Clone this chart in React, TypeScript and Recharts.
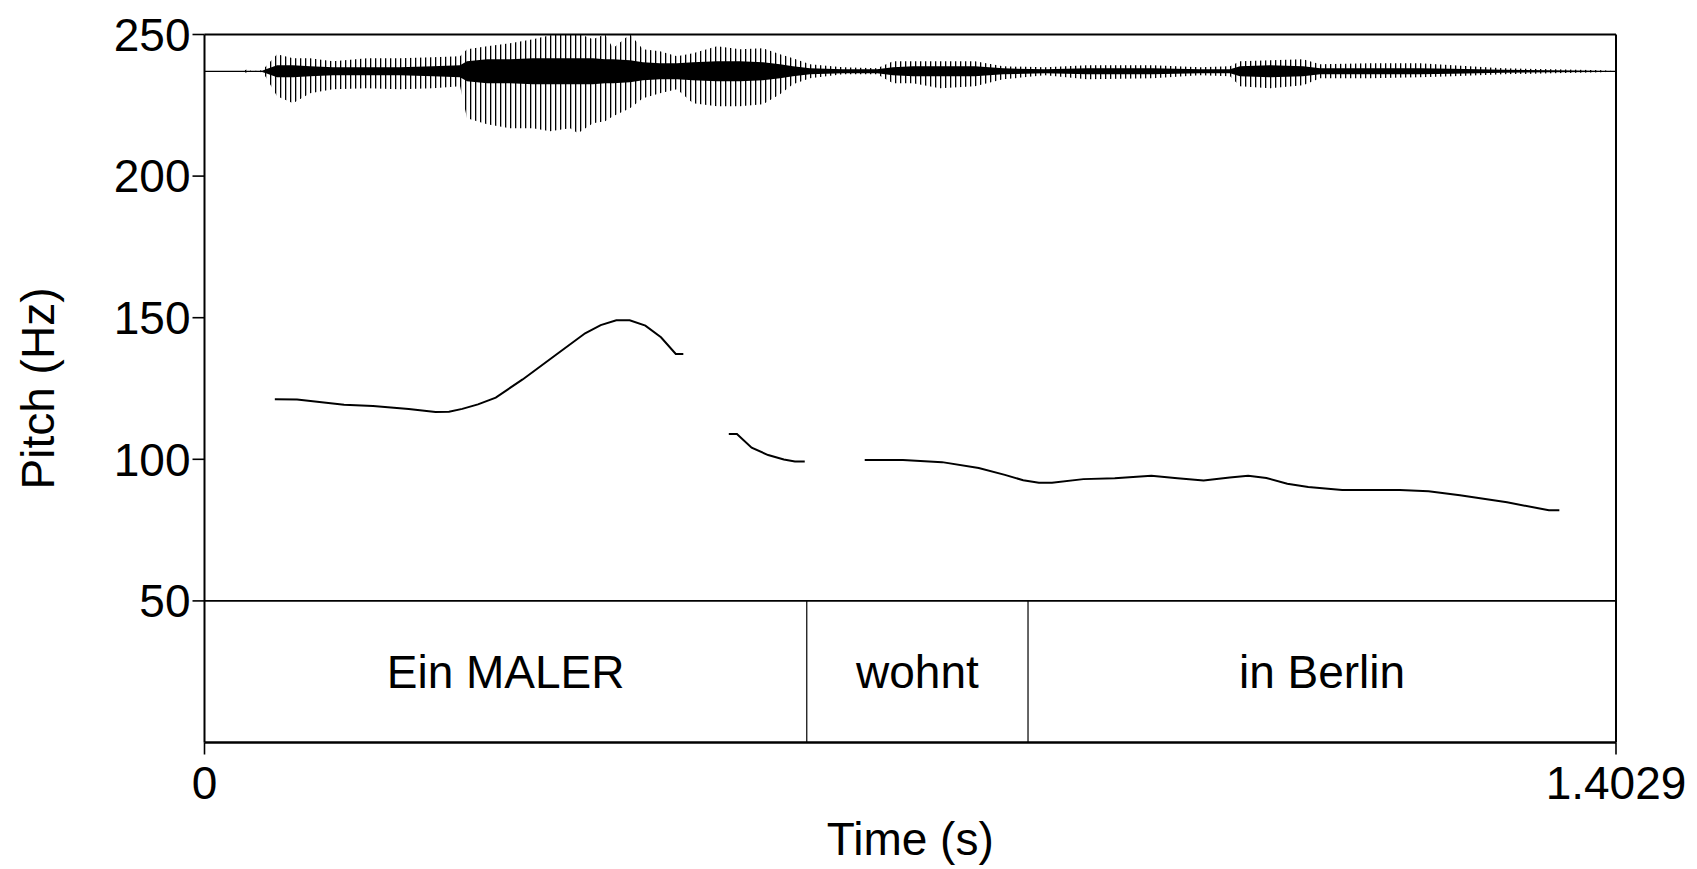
import { ComposedChart, Line, Area, XAxis, YAxis, ReferenceLine, ReferenceArea } from "recharts";

const FONT = "'Liberation Sans', Arial, Helvetica, sans-serif";
const DURATION = 1.4029;

// F0 track, one array per voiced stretch: [time (s), pitch (Hz)]
const f0Ein: [number, number][] = [
  [0.0699, 121.2], [0.092, 121.1], [0.1387, 119.3], [0.1675, 118.8], [0.203, 117.8],
  [0.2296, 116.7], [0.243, 116.8], [0.2562, 117.8], [0.2718, 119.4], [0.2895, 121.8],
  [0.3162, 128.2], [0.3494, 136.9], [0.3783, 144.5], [0.3938, 147.4], [0.4093, 149.1],
  [0.4226, 149.1], [0.4382, 147.2], [0.4537, 143.1], [0.4684, 137.2], [0.4759, 137.2],
];
const f0Maler: [number, number][] = [
  [0.5211, 108.9], [0.5292, 108.9], [0.5438, 104.1], [0.5602, 101.5], [0.5758, 99.9],
  [0.5868, 99.2], [0.5966, 99.2],
];
const f0Berlin: [number, number][] = [
  [0.6562, 99.75], [0.6942, 99.75], [0.7331, 99.0], [0.7695, 96.9], [0.7955, 94.5],
  [0.8137, 92.6], [0.8293, 91.7], [0.8423, 91.7], [0.8735, 93.0], [0.9047, 93.3],
  [0.9411, 94.2], [0.967, 93.3], [0.993, 92.5], [1.019, 93.6], [1.0373, 94.2],
  [1.0554, 93.4], [1.0762, 91.4], [1.097, 90.2], [1.1308, 89.2], [1.188, 89.2],
  [1.2166, 88.7], [1.2478, 87.3], [1.2946, 84.8], [1.3362, 82.0], [1.3466, 82.0],
];

// waveform envelope (relative amplitude, -1 = largest peak)
const waveTime = [
  0, 0.0383, 0.0422, 0.0472, 0.0572, 0.0611, 0.0721, 0.088, 0.1049, 0.1277,
  0.1615, 0.1943, 0.2271, 0.254, 0.2609, 0.2808, 0.3037, 0.3265, 0.3434, 0.3633,
  0.3712, 0.3861, 0.3981, 0.406, 0.4229, 0.4358, 0.4527, 0.4696, 0.4855, 0.5094,
  0.5322, 0.5551, 0.572, 0.5849, 0.6018, 0.6346, 0.6684, 0.6843, 0.7042, 0.731,
  0.7658, 0.7937, 0.8354, 0.8772, 0.9428, 0.9895, 1.0193, 1.0292, 1.0591, 1.0919,
  1.1088, 1.1585, 1.2081, 1.2409, 1.2906, 1.3403, 1.39, 1.4029,
];
const waveUpper = [
  0, 0, 0.032, 0, 0.016, 0.081, 0.274, 0.21, 0.21, 0.161,
  0.21, 0.21, 0.226, 0.242, 0.355, 0.403, 0.452, 0.516, 0.581, 0.597,
  0.613, 0.516, 0.597, 0.371, 0.597, 0.355, 0.323, 0.242, 0.29, 0.403,
  0.355, 0.371, 0.274, 0.21, 0.113, 0.065, 0.048, 0.161, 0.161, 0.161,
  0.161, 0.081, 0.065, 0.097, 0.097, 0.065, 0.081, 0.161, 0.177, 0.194,
  0.113, 0.129, 0.129, 0.097, 0.048, 0.032, 0.016, 0,
];
const waveLower = [
  0, 0, -0.032, 0, -0.016, -0.097, -0.403, -0.516, -0.355, -0.29,
  -0.274, -0.29, -0.274, -0.242, -0.758, -0.855, -0.919, -0.919, -0.968, -0.919,
  -1, -0.839, -0.806, -0.726, -0.597, -0.435, -0.355, -0.29, -0.516, -0.565,
  -0.565, -0.532, -0.371, -0.21, -0.113, -0.048, -0.048, -0.194, -0.194, -0.274,
  -0.242, -0.129, -0.065, -0.129, -0.113, -0.065, -0.081, -0.242, -0.274, -0.226,
  -0.113, -0.113, -0.097, -0.081, -0.048, -0.032, -0.016, 0,
];
const waveCore = [
  0.011, 0.011, 0.011, 0.011, 0.011, 0.032, 0.097, 0.097, 0.081, 0.065,
  0.065, 0.065, 0.081, 0.097, 0.161, 0.194, 0.194, 0.21, 0.21, 0.21,
  0.21, 0.21, 0.194, 0.194, 0.177, 0.145, 0.129, 0.129, 0.145, 0.161,
  0.161, 0.145, 0.113, 0.081, 0.048, 0.032, 0.032, 0.065, 0.081, 0.081,
  0.081, 0.048, 0.032, 0.048, 0.048, 0.032, 0.032, 0.081, 0.097, 0.081,
  0.048, 0.048, 0.048, 0.04, 0.024, 0.016, 0.011, 0.011,
];

// word tier
const tierLabels = ["Ein MALER", "wohnt", "in Berlin"];
const tierBounds = [0, 0.5986, 0.8185, DURATION];

const timeTicks = [0, DURATION];
const pitchTicks = [50, 100, 150, 200, 250];

// waveform is drawn in the band above the pitch range
const WAVE_ZERO = 237;
const WAVE_SCALE = 21.9;
const TIER_TOP = 50;

const toRows = (pts: [number, number][]) => pts.map(([t, f0]) => ({ t, f0 }));

const waveRows = waveTime.map((t, i) => ({
  t,
  peak: [WAVE_ZERO + waveLower[i] * WAVE_SCALE, WAVE_ZERO + waveUpper[i] * WAVE_SCALE],
  core: [WAVE_ZERO - waveCore[i] * WAVE_SCALE, WAVE_ZERO + waveCore[i] * WAVE_SCALE],
}));

const textStyle = { fontSize: 46, fill: "#000", fontFamily: FONT };

const PitchTitle = (props: any) => {
  const vb = props.viewBox || {};
  const cx = vb.x + 54;
  const cy = vb.y + vb.height / 2;
  return (
    <text
      x={cx}
      y={cy}
      transform={`rotate(-90 ${cx} ${cy})`}
      textAnchor="middle"
      fontSize={46}
      fontFamily={FONT}
      fill="#000"
    >
      Pitch (Hz)
    </text>
  );
};

export default function App() {
  return (
    <div style={{ position: "absolute", left: 0, top: 0, background: "#fff" }}>
      <ComposedChart
        width={1697}
        height={869}
        margin={{ top: 34.5, right: 81, bottom: 0, left: 0 }}
      >
        <defs>
          <pattern id="pulses" width="5" height="10" patternUnits="userSpaceOnUse">
            <rect x="0" y="0" width="1.3" height="10" fill="#000" />
          </pattern>
        </defs>
        <XAxis
          type="number"
          dataKey="t"
          domain={[0, DURATION]}
          allowDataOverflow
          ticks={timeTicks}
          interval={0}
          tickFormatter={(v: number) => (v === 0 ? "0" : String(v))}
          height={126.5}
          tickSize={12}
          tickMargin={11.5}
          tick={textStyle}
          tickLine={{ stroke: "#000", strokeWidth: 1.6 }}
          axisLine={{ stroke: "#000", strokeWidth: 2.5 }}
          label={{ value: "Time (s)", position: "insideBottom", offset: 14, ...textStyle }}
        />
        <YAxis
          type="number"
          domain={[0, 250]}
          allowDataOverflow
          ticks={pitchTicks}
          interval={0}
          width={204.5}
          tickSize={12}
          tickMargin={2}
          tick={textStyle}
          tickLine={{ stroke: "#000", strokeWidth: 1.6 }}
          axisLine={{ stroke: "#000", strokeWidth: 2 }}
          label={PitchTitle}
        />

        <ReferenceLine y={250} stroke="#000" strokeWidth={2} />
        <ReferenceLine x={DURATION} stroke="#000" strokeWidth={2} />
        <ReferenceLine y={TIER_TOP} stroke="#000" strokeWidth={1.6} />
        {tierBounds.slice(1, -1).map((b) => (
          <ReferenceLine
            key={b}
            segment={[{ x: b, y: 0 }, { x: b, y: TIER_TOP }]}
            stroke="#000"
            strokeWidth={1.2}
          />
        ))}
        {tierLabels.map((w, i) => (
          <ReferenceArea
            key={w}
            x1={tierBounds[i]}
            x2={tierBounds[i + 1]}
            y1={0}
            y2={TIER_TOP}
            fill="none"
            stroke="none"
            label={{ value: w, position: "center", ...textStyle }}
          />
        ))}

        <Area
          data={waveRows}
          dataKey="peak"
          type="linear"
          stroke="none"
          fill="url(#pulses)"
          fillOpacity={1}
          dot={false}
          activeDot={false}
          isAnimationActive={false}
        />
        <Area
          data={waveRows}
          dataKey="core"
          type="linear"
          stroke="none"
          fill="#000"
          fillOpacity={1}
          dot={false}
          activeDot={false}
          isAnimationActive={false}
        />

        {[f0Ein, f0Maler, f0Berlin].map((seg, i) => (
          <Line
            key={i}
            data={toRows(seg)}
            dataKey="f0"
            type="linear"
            stroke="#000"
            strokeWidth={2}
            dot={false}
            activeDot={false}
            isAnimationActive={false}
          />
        ))}
      </ComposedChart>
    </div>
  );
}
